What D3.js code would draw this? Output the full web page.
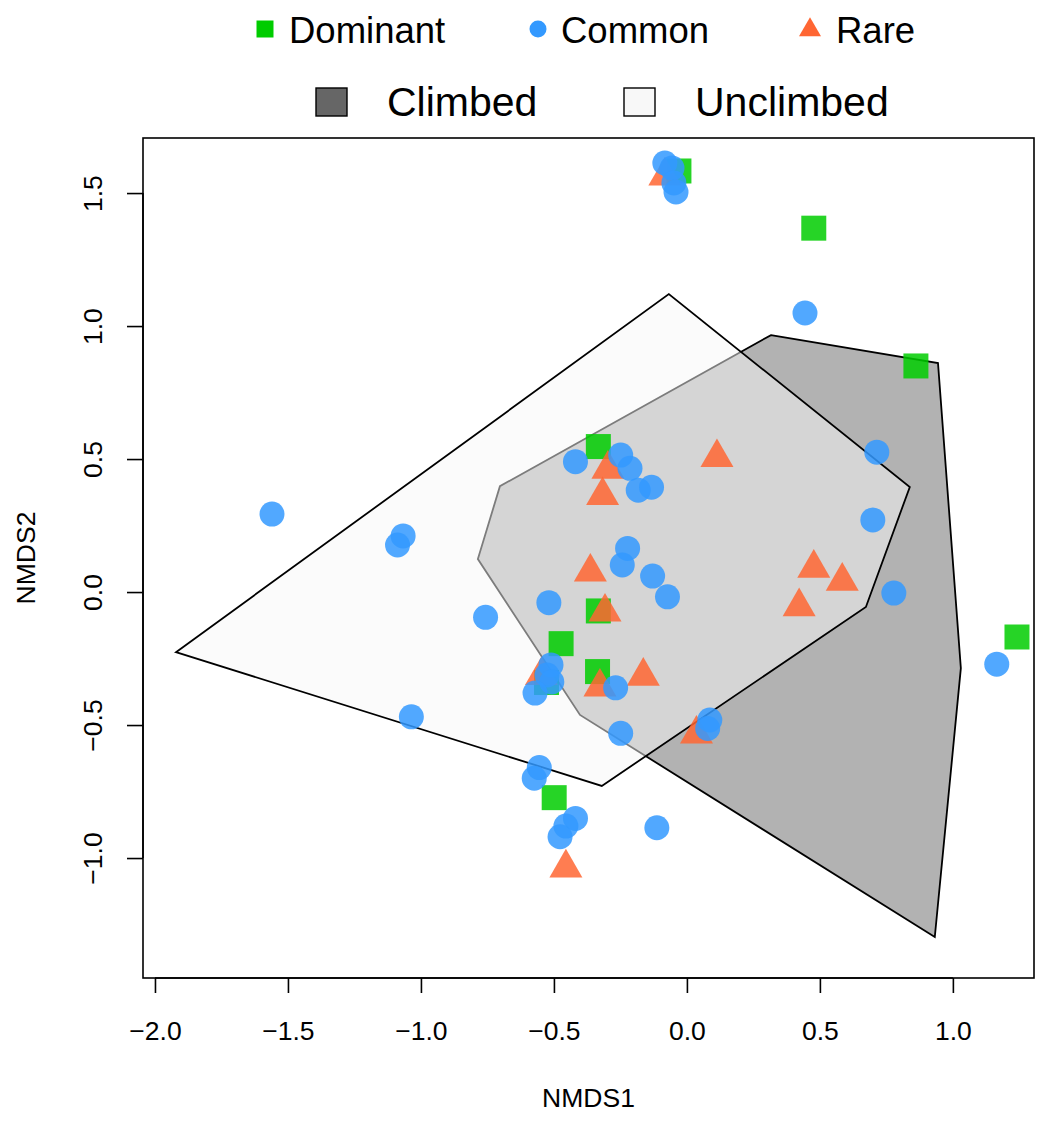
<!DOCTYPE html>
<html>
<head>
<meta charset="utf-8">
<script src="https://cdn.jsdelivr.net/npm/d3@7"></script>
<style>
  html, body { margin: 0; padding: 0; background: #ffffff; }
  svg { display: block; }
  text { font-family: "Liberation Sans", Arial, sans-serif; fill: #000; }
</style>
</head>
<body>
<svg id="chart" width="1048" height="1124"></svg>
<script>
// ---------------- data ----------------
const xTicks = [-2.0, -1.5, -1.0, -0.5, 0.0, 0.5, 1.0];
const yTicks = [-1.0, -0.5, 0.0, 0.5, 1.0, 1.5];

const speciesGroups = ["Dominant", "Common", "Rare"];
const hullGroups = ["Climbed", "Unclimbed"];

// Convex hulls (NMDS1, NMDS2)
const climbedHull = [
  [0.316, 0.966], [0.944, 0.861], [1.030, -0.286], [0.932, -1.297],
  [-0.402, -0.462], [-0.786, 0.124], [-0.703, 0.398]
];
const unclimbedHull = [
  [-1.921, -0.226], [-0.068, 1.120], [0.838, 0.395], [0.673, -0.056], [-0.320, -0.729]
];

// Dominant species scores
const dominantX = [-0.030, 0.477, 0.861, 1.241, -0.333, -0.333, -0.473, -0.336, -0.528, -0.499];
const dominantY = [1.583, 1.368, 0.850, -0.169, 0.547, -0.071, -0.194, -0.299, -0.340, -0.773];

// Rare species scores
const rareX = [-0.083, 0.113, 0.477, 0.584, 0.422, -0.297, -0.317, -0.363, -0.308, -0.327, -0.164, 0.036, -0.455, -0.547];
const rareY = [1.564, 0.506, 0.090, 0.041, -0.055, 0.462, 0.363, 0.075, -0.075, -0.357, -0.316, -0.534, -1.037, -0.314];

// Common species scores
const commonX = [
  -0.083, -0.056, -0.049, -0.041,
  0.444, 0.714, 0.699, 0.778, 1.165,
  -0.419, -0.249, -0.214, -0.183, -0.133, -0.223, -0.243, -0.129, -0.073, -0.519, -0.757,
  -0.268, -0.249, 0.086, 0.078, -0.555, -0.574, -0.419, -0.455, -0.477, -0.113,
  -0.511, -0.526, -0.508, -0.571,
  -1.560, -1.067, -1.088, -1.036
];
const commonY = [
  1.613, 1.594, 1.538, 1.504,
  1.049, 0.526, 0.271, -0.004, -0.271,
  0.490, 0.515, 0.465, 0.383, 0.394, 0.164, 0.102, 0.060, -0.018, -0.040, -0.095,
  -0.360, -0.531, -0.481, -0.513, -0.660, -0.700, -0.851, -0.880, -0.920, -0.886,
  -0.274, -0.312, -0.338, -0.380,
  0.293, 0.211, 0.177, -0.469
];

// ---------------- setup ----------------
const svg = d3.select("#chart");
svg.append("rect").attr("width", 1048).attr("height", 1124).attr("fill", "#ffffff");

const plot = { left: 143, right: 1034, top: 138, bottom: 978 };
const x = d3.scaleLinear().domain([-2.045, 1.305]).range([plot.left, plot.right]);
const y = d3.scaleLinear().domain([-1.451, 1.707]).range([plot.bottom, plot.top]);

const colors = { Dominant: "#00cc00", Common: "#3399ff", Rare: "#ff6633" };
const hullFill = { Climbed: "#666666", Unclimbed: "#f8f8f8" };
const fmt = d3.format(".1f");
const FS = 26.5;

// clip
svg.append("clipPath").attr("id", "clip").append("rect")
  .attr("x", plot.left).attr("y", plot.top)
  .attr("width", plot.right - plot.left).attr("height", plot.bottom - plot.top);

const g = svg.append("g").attr("clip-path", "url(#clip)");
const line = d3.line().x(d => x(d[0])).y(d => y(d[1])).curve(d3.curveLinearClosed);

g.append("path").attr("d", line(climbedHull))
  .attr("fill", hullFill.Climbed).attr("fill-opacity", 0.5)
  .attr("stroke", "#000").attr("stroke-width", 1.8).attr("stroke-linejoin", "miter");
g.append("path").attr("d", line(unclimbedHull))
  .attr("fill", hullFill.Unclimbed).attr("fill-opacity", 0.5)
  .attr("stroke", "#000").attr("stroke-width", 1.8).attr("stroke-linejoin", "miter");

// symbols
function squarePath(s) { const h = s / 2; return `M${-h},${-h}H${h}V${h}H${-h}Z`; }
function trianglePath(w) {
  const hw = w / 2, hgt = w * Math.sqrt(3) / 2;
  return `M0,${-hgt * 2 / 3}L${hw},${hgt / 3}L${-hw},${hgt / 3}Z`;
}

const PT_ALPHA = 0.85;
const dom = dominantX.map((v, i) => [v, dominantY[i]]);
const rare = rareX.map((v, i) => [v, rareY[i]]);
const com = commonX.map((v, i) => [v, commonY[i]]);

g.selectAll("path.dom").data(dom).enter().append("path")
  .attr("class", "dom")
  .attr("d", squarePath(25))
  .attr("transform", d => `translate(${x(d[0])},${y(d[1])})`)
  .attr("fill", colors.Dominant).attr("fill-opacity", PT_ALPHA);

g.selectAll("path.rare").data(rare).enter().append("path")
  .attr("class", "rare")
  .attr("d", trianglePath(33))
  .attr("transform", d => `translate(${x(d[0])},${y(d[1])})`)
  .attr("fill", colors.Rare).attr("fill-opacity", PT_ALPHA);

g.selectAll("circle.com").data(com).enter().append("circle")
  .attr("class", "com")
  .attr("cx", d => x(d[0])).attr("cy", d => y(d[1])).attr("r", 12.5)
  .attr("fill", colors.Common).attr("fill-opacity", PT_ALPHA);

// box
svg.append("rect")
  .attr("x", plot.left).attr("y", plot.top)
  .attr("width", plot.right - plot.left).attr("height", plot.bottom - plot.top)
  .attr("fill", "none").attr("stroke", "#000").attr("stroke-width", 1.6);

// x axis
const xAxis = svg.append("g").attr("transform", `translate(0,${plot.bottom})`)
  .call(d3.axisBottom(x).tickValues(xTicks).tickFormat(fmt).tickSize(15).tickSizeOuter(0).tickPadding(28));
xAxis.select(".domain").remove();
xAxis.selectAll(".tick line").attr("stroke", "#000").attr("stroke-width", 1.6);
xAxis.selectAll("text").style("font-size", FS + "px").attr("font-family", null);
svg.append("line").attr("x1", x(xTicks[0])).attr("x2", x(xTicks[xTicks.length - 1]))
  .attr("y1", plot.bottom).attr("y2", plot.bottom).attr("stroke", "#000").attr("stroke-width", 1.6);

// y axis
const yAxis = svg.append("g").attr("transform", `translate(${plot.left},0)`)
  .call(d3.axisLeft(y).tickValues(yTicks).tickFormat(fmt).tickSize(16).tickSizeOuter(0));
yAxis.select(".domain").remove();
yAxis.selectAll(".tick line").attr("stroke", "#000").attr("stroke-width", 1.6);
yAxis.selectAll("text")
  .attr("x", null).attr("dy", null)
  .attr("text-anchor", "middle")
  .attr("transform", "translate(-41,0) rotate(-90)")
  .style("font-size", FS + "px");
svg.append("line").attr("y1", y(yTicks[0])).attr("y2", y(yTicks[yTicks.length - 1]))
  .attr("x1", plot.left).attr("x2", plot.left).attr("stroke", "#000").attr("stroke-width", 1.6);

// axis titles
svg.append("text").attr("x", (plot.left + plot.right) / 2).attr("y", 1107)
  .attr("text-anchor", "middle").style("font-size", FS + "px").text("NMDS1");
svg.append("text").attr("transform", `translate(35,${(plot.top + plot.bottom) / 2}) rotate(-90)`)
  .attr("text-anchor", "middle").style("font-size", FS + "px").text("NMDS2");

// legend row 1 (species)
const leg1 = [
  { name: speciesGroups[0], sx: 265, tx: 289 },
  { name: speciesGroups[1], sx: 538, tx: 561 },
  { name: speciesGroups[2], sx: 810, tx: 836 }
];
const L1Y = 29;
svg.append("path").attr("d", squarePath(17)).attr("transform", `translate(${leg1[0].sx},${L1Y})`).attr("fill", colors.Dominant);
svg.append("circle").attr("cx", leg1[1].sx).attr("cy", L1Y).attr("r", 8.5).attr("fill", colors.Common);
svg.append("path").attr("d", trianglePath(22)).attr("transform", `translate(${leg1[2].sx},${L1Y + 1})`).attr("fill", colors.Rare);
leg1.forEach(d => {
  svg.append("text").attr("x", d.tx).attr("y", 43).style("font-size", "36.5px").text(d.name);
});

// legend row 2 (hulls)
const leg2 = [
  { name: hullGroups[0], bx: 316, tx: 387, fill: hullFill.Climbed },
  { name: hullGroups[1], bx: 624, tx: 695, fill: hullFill.Unclimbed }
];
leg2.forEach(d => {
  svg.append("rect").attr("x", d.bx).attr("y", 88).attr("width", 31).attr("height", 28)
    .attr("fill", d.fill).attr("stroke", "#000").attr("stroke-width", 1.4);
  svg.append("text").attr("x", d.tx).attr("y", 116).style("font-size", "41px").text(d.name);
});
</script>
</body>
</html>
